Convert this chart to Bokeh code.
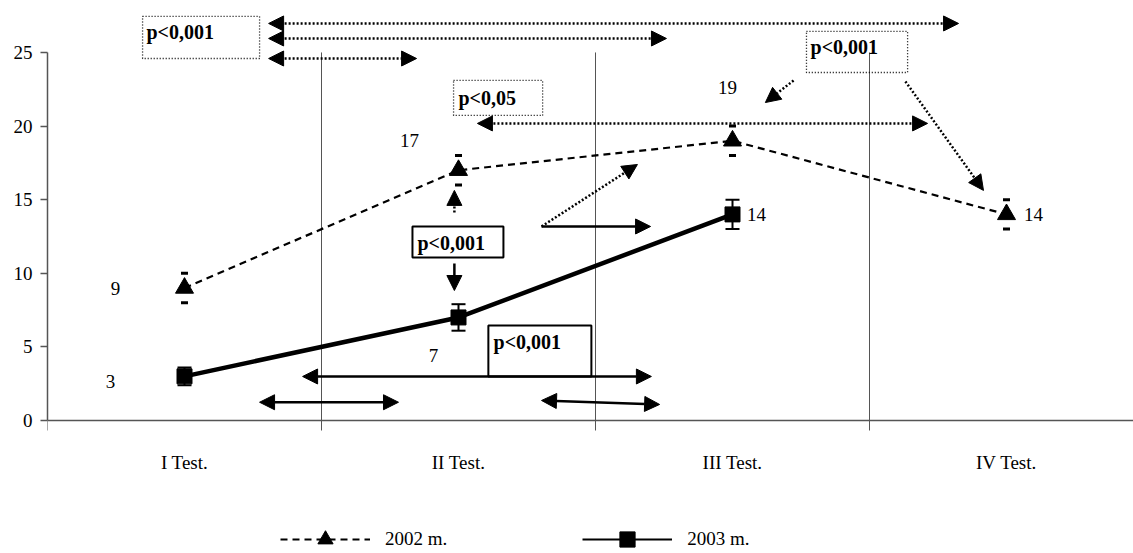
import numpy as np
from bokeh.plotting import figure
from bokeh.models import (Range1d, FixedTicker, ColumnDataSource, Whisker, TeeHead,
                          Arrow, NormalHead, BoxAnnotation, Label, Legend, LegendItem)
from bokeh.core.properties import value
from bokeh.embed import file_html
from bokeh.resources import INLINE

# ---------------- data ----------------
categories = ["I Test.", "II Test.", "III Test.", "IV Test."]
series_2002 = [9, 17, 19, 14]
error_2002 = [1, 1, 1, 1]
series_2003 = [3, 7, 14]
error_2003 = [0.6, 0.9, 1.0]
y_ticks = [0, 5, 10, 15, 20, 25]
legend_labels = ["2002 m.", "2003 m."]
p_value_texts = ["p<0,001", "p<0,05", "p<0,001", "p<0,001", "p<0,001"]

FONT = "Liberation Serif"

# category centres / boundaries on a numeric axis
xc = np.arange(len(categories)) + 0.5
bounds = np.arange(1, len(categories))

p = figure(width=1133, height=553,
           x_range=Range1d(0, 3.9635), y_range=Range1d(-9.035, 28.53),
           output_backend="svg", toolbar_location=None,
           min_border_left=47, min_border_right=0, min_border_top=0,
           min_border_bottom=0)
p.outline_line_color = None
p.xgrid.visible = False
p.ygrid.visible = False
p.background_fill_color = "white"
p.border_fill_color = "white"

# separators between categories
p.segment(x0=bounds, y0=0, x1=bounds, y1=max(y_ticks),
          line_color="#555555", line_width=1)

# ---------------- series ----------------
n2 = len(series_2002)
src02 = ColumnDataSource(dict(
    x=xc[:n2], y=series_2002,
    upper=[v + e for v, e in zip(series_2002, error_2002)],
    lower=[v - e for v, e in zip(series_2002, error_2002)]))
n3 = len(series_2003)
src03 = ColumnDataSource(dict(
    x=xc[:n3], y=series_2003,
    upper=[v + e for v, e in zip(series_2003, error_2003)],
    lower=[v - e for v, e in zip(series_2003, error_2003)]))

w02 = Whisker(source=src02, base="x", upper="upper", lower="lower",
              dimension="height", line_alpha=0,
              upper_head=TeeHead(size=7, line_width=3, line_color="black"),
              lower_head=TeeHead(size=7, line_width=3, line_color="black"))
w03 = Whisker(source=src03, base="x", upper="upper", lower="lower",
              dimension="height", line_color="black", line_width=2,
              upper_head=TeeHead(size=14, line_width=2, line_color="black"),
              lower_head=TeeHead(size=14, line_width=2, line_color="black"))
p.add_layout(w02)
p.add_layout(w03)

l02 = p.line("x", "y", source=src02, line_color="black", line_width=2.2,
             line_dash="7 5")
s02 = p.scatter("x", "y", source=src02, marker="triangle", size=18,
                fill_color="black", line_color="black")
# thin copy (hidden under the thick line) used for the legend swatch
lg03 = p.line("x", "y", source=src03, line_color="black", line_width=2)
l03 = p.line("x", "y", source=src03, line_color="black", line_width=4.5)
s03 = p.scatter("x", "y", source=src03, marker="square", size=15,
                fill_color="black", line_color="black")

# value labels (pixel offsets from their points)
lab_src = ColumnDataSource(dict(
    x=list(xc[:n2]) + list(xc[:n3]),
    y=series_2002 + series_2003,
    text=[str(v) for v in series_2002 + series_2003],
    dx=[-69, -49, -5, 27, -74, -25, 24],
    dy=[0, -30, -53, 0, 5, 38, 0]))
p.text("x", "y", text="text", source=lab_src, x_offset="dx", y_offset="dy",
       text_align="center", text_baseline="middle",
       text_font=value(FONT), text_font_size="19px", text_color="black")

# ---------------- axes ----------------
ya = p.yaxis[0]
ya.ticker = FixedTicker(ticks=y_ticks)
ya.bounds = (min(y_ticks), max(y_ticks))
ya.major_tick_out = 7
ya.major_tick_in = 0
ya.minor_tick_line_color = None
ya.axis_line_color = "#555555"
ya.axis_line_width = 1.5
ya.major_tick_line_color = "#555555"
ya.major_tick_line_width = 1.5
ya.major_label_standoff = 8
ya.major_label_text_font = FONT
ya.major_label_text_font_size = "19px"
ya.major_label_text_color = "black"

xa = p.xaxis[0]
xa.fixed_location = 0
xa.ticker = FixedTicker(ticks=list(xc), minor_ticks=list(range(len(categories))))
xa.major_label_overrides = {float(x): c for x, c in zip(xc, categories)}
xa.major_tick_line_color = None
xa.major_tick_out = 0
xa.major_tick_in = 0
xa.minor_tick_out = 10
xa.minor_tick_in = 0
xa.minor_tick_line_color = "#555555"
xa.minor_tick_line_width = 1
xa.axis_line_color = "#555555"
xa.axis_line_width = 1.5
xa.major_label_standoff = 22
xa.major_label_text_font = FONT
xa.major_label_text_font_size = "19px"
xa.major_label_text_color = "black"

# ---------------- annotations ----------------
def head():
    return NormalHead(size=15, fill_color="black", line_color="black", line_width=1)

# (x0, y0, x1, y1, dotted, double)
arrows = [
    (0.807, 26.97, 3.325, 26.97, True, True),
    (0.807, 25.95, 2.259, 25.95, True, True),
    (0.807, 24.59, 1.347, 24.59, True, True),
    (1.569, 20.18, 3.212, 20.18, True, True),
    (2.723, 23.10, 2.620, 21.60, True, False),
    (3.131, 23.03, 3.416, 15.63, True, False),
    (1.485, 14.13, 1.485, 15.63, True, False),
    (1.803, 13.18, 2.153, 17.39, True, False),
    (1.803, 13.18, 2.201, 13.18, False, False),
    (1.485, 10.67, 1.485, 8.83, False, False),
    (0.931, 2.99, 2.204, 2.99, False, True),
    (0.774, 1.24, 1.281, 1.24, False, True),
    (1.803, 1.36, 2.234, 1.09, False, True),
]
for x0, y0, x1, y1, dotted, double in arrows:
    a = Arrow(x_start=x0, y_start=y0, x_end=x1, y_end=y1,
              end=head(), start=head() if double else None,
              line_color="black", line_width=2.5,
              line_dash="2 2" if dotted else "solid")
    p.add_layout(a)

# (left, right, bottom, top, dotted, text_x, text_y)
boxes = [
    (0.347, 0.774, 24.59, 27.45, True, 0.361, 26.36),
    (1.482, 1.807, 20.72, 23.10, True, 1.500, 21.94),
    (2.770, 3.139, 23.64, 26.43, True, 2.785, 25.34),
    (1.332, 1.664, 11.07, 13.18, False, 1.350, 12.09),
    (1.609, 1.985, 2.99, 6.45, False, 1.628, 5.30),
]
for (l, r, b, t, dotted, tx, ty), txt in zip(boxes, p_value_texts):
    box = BoxAnnotation(left=l, right=r, bottom=b, top=t,
                        fill_alpha=0, line_color="black",
                        line_width=1.3 if dotted else 2,
                        line_dash="1 2" if dotted else "solid",
                        line_alpha=1)
    p.add_layout(box)
    p.add_layout(Label(x=tx, y=ty, text=txt, text_font=FONT,
                       text_font_size="20px", text_font_style="bold",
                       text_baseline="middle", text_align="left",
                       text_color="black"))

# ---------------- legend ----------------
legend = Legend(items=[LegendItem(label=legend_labels[0], renderers=[l02, s02]),
                       LegendItem(label=legend_labels[1], renderers=[lg03, s03])],
                location=(233, -5), orientation="horizontal",
                glyph_width=90, glyph_height=38, label_height=38,
                label_standoff=15, spacing=135, padding=0, margin=0,
                border_line_color=None, background_fill_alpha=0,
                label_text_font=FONT, label_text_font_size="19px",
                label_text_color="black")
p.add_layout(legend)

open("out.html", "w").write(file_html(p, INLINE))
